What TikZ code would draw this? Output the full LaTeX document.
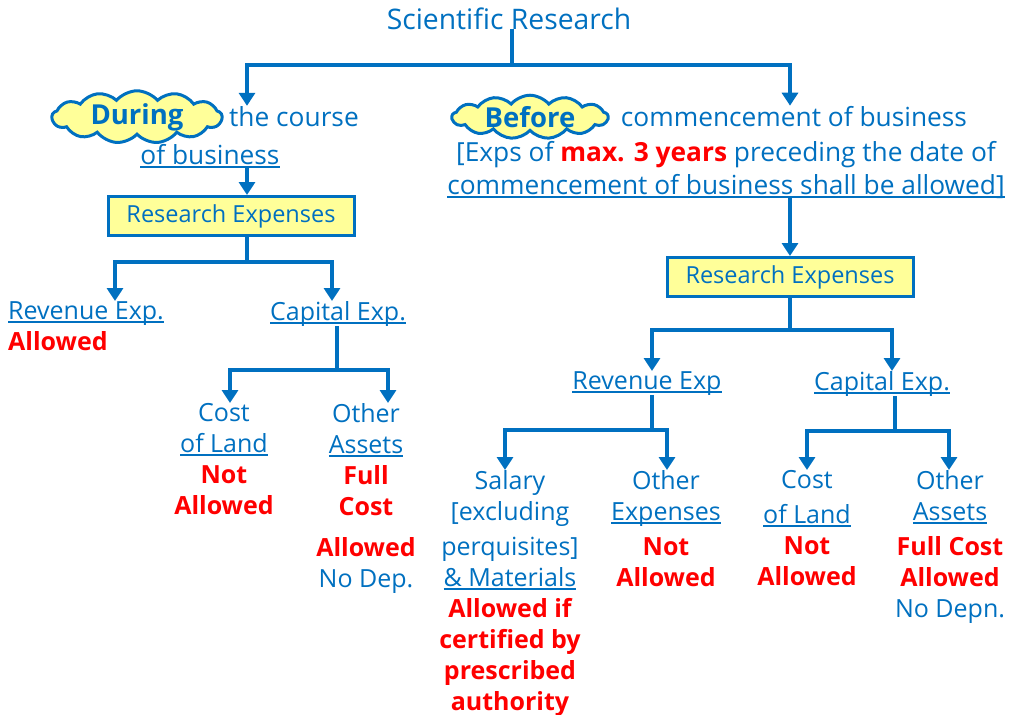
\documentclass[tikz,border=0pt]{standalone}
\usepackage{fontspec}
\setmainfont{Open Sans}
\usetikzlibrary{arrows.meta, shapes.symbols}
\definecolor{resblue}{HTML}{0070C0}
\definecolor{resyellow}{HTML}{FFFF99}
\newcommand\undl[1]{\setbox0\hbox{#1}\rlap{\copy0}\rule[-4pt]{\wd0}{2.4pt}}
\newcommand\hi[1]{\textcolor{red}{\bfseries #1}}

\begin{document}
\begin{tikzpicture}[x=1pt, y=-1pt, every node/.style={inner sep=0pt, text=resblue, font=\fontsize{25}{31}\selectfont, align=center},
  top/.style={anchor=base, font=\fontsize{26.3}{33}\selectfont},
  ln/.style={draw=resblue, line width=4pt},
  arr/.style={ln, -{Triangle[width=16pt, length=13pt]}},
  resbox/.style={draw=resblue, line width=3pt, fill=resyellow, minimum width=246pt, minimum height=39pt, font=\fontsize{23.5}{28}\selectfont},
  puff/.style={cloud, cloud puffs=13, cloud puff arc=100, cloud ignores aspect, draw=resblue, line width=3pt, fill=resyellow, font=\fontsize{27.5}{31}\selectfont\bfseries}]
  \useasboundingbox (0,0) rectangle (1010,715);

  \node[top, font=\fontsize{28.3}{33}\selectfont] (title) at (509,29) {Scientific Research};

  \node[puff, minimum width=170pt, minimum height=42pt] (during) at (137,117) {During};
  \node[top] (course) at (294,126) {the course};
  \node[top] (ofbus) at (210,164) {\undl{of business}};
  \node[resbox] (resl) at (231,216) {Research Expenses};

  \node[anchor=north west, align=left] (revl) at (8,301) {\undl{Revenue Exp.}\\\hi{Allowed}};
  \node[anchor=north] (capl) at (338,301) {\undl{Capital Exp.}};
  \node[anchor=north] (costl) at (224,403) {Cost\\\undl{of Land}\\\hi{Not}\\\hi{Allowed}};
  \node[anchor=north] (othl) at (366,403) {Other\\\undl{Assets}\\\hi{Full}\\\hi{Cost}\\[10pt]\hi{Allowed}\\No Dep.};

  \node[puff, minimum width=156pt, minimum height=42pt] (before) at (530,117) {Before};
  \node[top] (comm) at (794,126) {commencement of business};
  \node[top] (exps) at (726,161) {[Exps of \hi{max. 3 years} preceding the date of};
  \node[top] (exps2) at (726,194) {\undl{commencement of business shall be allowed]}};
  \node[resbox] (resr) at (790,277) {Research Expenses};

  \node[anchor=north] (revr) at (647,371) {\undl{Revenue Exp}};
  \node[anchor=north] (capr) at (882,371) {\undl{Capital Exp.}};
  \node[anchor=north] (sal) at (510,470) {Salary\\{[excluding}\\[4pt]perquisites]\\\undl{\& Materials}\\\hi{Allowed if}\\\hi{certified by}\\\hi{prescribed}\\\hi{authority}};
  \node[anchor=north] (othr) at (666,470) {Other\\\undl{Expenses}\\[4pt]\hi{Not}\\\hi{Allowed}};
  \node[anchor=north] (costr) at (807,470) {Cost\\[4pt]\undl{of Land}\\\hi{Not}\\\hi{Allowed}};
  \node[anchor=north] (assr) at (950,470) {Other\\\undl{Assets}\\[4pt]\hi{Full Cost}\\\hi{Allowed}\\No Depn.};

  \coordinate (tj) at (512,65);
  \coordinate (lj) at (247,262);
  \coordinate (la) at (115,262);
  \coordinate (lb) at (332,262);
  \coordinate (cj) at (337,370);
  \coordinate (ca) at (230,370);
  \coordinate (cb) at (388,370);
  \coordinate (rj) at (790,330);
  \coordinate (ra) at (652,330);
  \coordinate (rb) at (892,330);
  \coordinate (vj) at (652,430);
  \coordinate (va) at (505,430);
  \coordinate (vb) at (667,430);
  \coordinate (kj) at (895,431);
  \coordinate (ka) at (807,431);
  \coordinate (kb) at (949,431);

  \draw[ln] (title.south -| tj) -- (tj);
  \draw[arr] (tj) -| (course.north -| lj);
  \draw[arr] (tj) -| (comm.north -| rj);
  \draw[arr] (ofbus.south -| lj) -- (resl.north -| lj);
  \draw[ln] (resl.south -| lj) -- (lj);
  \draw[arr] (lj) -| (revl.north -| la);
  \draw[arr] (lj) -| (capl.north -| lb);
  \draw[ln] (capl.south -| cj) -- (cj);
  \draw[arr] (cj) -| (costl.north -| ca);
  \draw[arr] (cj) -| (othl.north -| cb);

  \draw[arr] (exps2.south -| rj) -- (resr.north -| rj);
  \draw[ln] (resr.south -| rj) -- (rj);
  \draw[arr] (rj) -| (revr.north -| ra);
  \draw[arr] (rj) -| (capr.north -| rb);
  \draw[ln] (revr.south -| vj) -- (vj);
  \draw[arr] (vj) -| (sal.north -| va);
  \draw[arr] (vj) -| (othr.north -| vb);
  \draw[ln] (capr.south -| kj) -- (kj);
  \draw[arr] (kj) -| (costr.north -| ka);
  \draw[arr] (kj) -| (assr.north -| kb);
 \end{tikzpicture}
\end{document}
